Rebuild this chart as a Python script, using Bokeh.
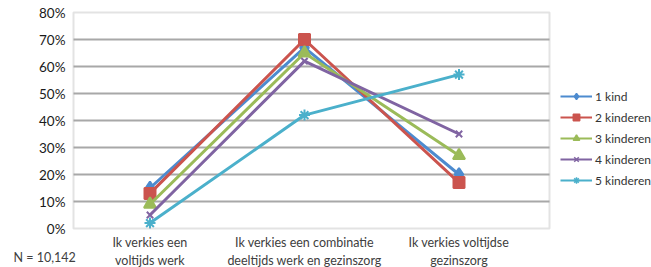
from bokeh.plotting import figure
from bokeh.models import (Range1d, FixedTicker, Legend, LegendItem, Label,
                          BoxAnnotation)
from bokeh.embed import file_html
from bokeh.resources import INLINE

categories = ["Ik verkies een\nvoltijds werk",
              "Ik verkies een combinatie\ndeeltijds werk en gezinszorg",
              "Ik verkies voltijdse\ngezinszorg"]
series_names = ["1 kind", "2 kinderen", "3 kinderen", "4 kinderen", "5 kinderen"]
kind1 = [15, 67, 20]
kinderen2 = [13, 70, 17]
kinderen3 = [9, 65, 27]
kinderen4 = [5, 62, 35]
kinderen5 = [2, 42, 57]
y_ticks = [0, 10, 20, 30, 40, 50, 60, 70, 80]
note = "N = 10,142"

series = [kind1, kinderen2, kinderen3, kinderen4, kinderen5]
colors = ["#4d8bcf", "#cb544e", "#9bbb59", "#8064a2", "#4bb0cb"]
markers = ["diamond", "square", "triangle", "x", "asterisk"]
msizes = [13, 11, 12, 9, 11]
FONT = "Lato"

# layout (pixels inside the canvas)
W, H = 651, 267
BOX_L, BOX_R = 73, 549       # plot box left/right
Y0_PX, Y80_PX = 228, 12      # pixel row of 0% and 80%
CAT1_PX, CAT_STEP = 149.5, 154.5

xs = list(range(1, len(categories) + 1))


def xdata(px):
    return 1 + (px - CAT1_PX) / CAT_STEP


ppv = (Y0_PX - Y80_PX) / 80.0


def ydata(py):
    return (Y0_PX - py) / ppv


p = figure(width=W, height=H, output_backend="svg", toolbar_location=None,
           x_range=Range1d(xdata(0), xdata(W)),
           y_range=Range1d(ydata(H), ydata(0)),
           min_border=0, min_border_left=0, min_border_right=0,
           min_border_top=0, min_border_bottom=0)
p.title.visible = False
p.background_fill_color = "white"
p.border_fill_color = "white"
p.outline_line_color = None

x_left, x_right = xdata(BOX_L), xdata(BOX_R)

p.xgrid.visible = False
p.ygrid.grid_line_color = "#a8a8a8"
p.ygrid.grid_line_width = 2
p.ygrid.ticker = FixedTicker(ticks=y_ticks[1:-1])
p.ygrid.cross_bounds = (x_left, x_right)

p.add_layout(BoxAnnotation(left=x_left, right=x_right,
                           bottom=y_ticks[0], top=y_ticks[-1],
                           fill_color=None, fill_alpha=0,
                           line_color="#a3a3a3", line_width=2))

p.yaxis.fixed_location = xdata(BOX_L - 8)
p.yaxis.ticker = FixedTicker(ticks=y_ticks)
p.yaxis.major_label_overrides = {t: f"{t}%" for t in y_ticks}
p.yaxis.axis_label = None
p.yaxis.axis_line_color = None
p.yaxis.major_tick_line_color = None
p.yaxis.minor_tick_line_color = None
p.yaxis.major_tick_out = 0
p.yaxis.major_tick_in = 0
p.yaxis.minor_tick_out = 0
p.yaxis.minor_tick_in = 0
p.yaxis.major_label_text_font = FONT
p.yaxis.major_label_text_font_size = "13.5px"
p.yaxis.major_label_text_color = "#1a1a1a"
p.yaxis.major_label_standoff = 0

p.xaxis.fixed_location = ydata(Y0_PX + 6)
p.xaxis.ticker = FixedTicker(ticks=xs, minor_ticks=[])
p.xaxis.major_label_overrides = {x: c for x, c in zip(xs, categories)}
p.xaxis.axis_label = None
p.xaxis.axis_line_color = None
p.xaxis.major_tick_line_color = None
p.xaxis.minor_tick_line_color = None
p.xaxis.major_tick_out = 0
p.xaxis.major_tick_in = 0
p.xaxis.minor_tick_in = 0
p.xaxis.minor_tick_out = 0
p.xaxis.major_label_text_font = FONT
p.xaxis.major_label_text_font_size = "12.5px"
p.xaxis.major_label_text_color = "#404040"
p.xaxis.major_label_standoff = 0

nan = float("nan")
items = []
for name, vals, c, m, s in zip(series_names, series, colors, markers, msizes):
    p.line(xs, vals, line_color=c, line_width=3)
    p.scatter(xs, vals, marker=m, size=s, fill_color=c, line_color=c,
              line_width=2)
    lg_line = p.line([nan], [nan], line_color=c, line_width=2)
    lg_mark = p.scatter([nan], [nan], marker=m, size=6, fill_color=c,
                        line_color=c, line_width=1.5)
    items.append(LegendItem(label=name, renderers=[lg_line, lg_mark]))

legend = Legend(items=items, location=(560, 79), orientation="vertical",
                glyph_width=32, glyph_height=16, label_height=16,
                label_standoff=3, spacing=5, padding=0, margin=0,
                border_line_color=None, background_fill_alpha=0,
                label_text_font=FONT, label_text_font_size="12px",
                label_text_color="#333333")
p.add_layout(legend)

p.add_layout(Label(x=13, y=10, x_units="screen", y_units="screen", text=note,
                   text_baseline="middle",
                   text_font=FONT, text_font_size="12.5px",
                   text_color="#404040"))

open("out.html", "w").write(file_html(p, INLINE))
